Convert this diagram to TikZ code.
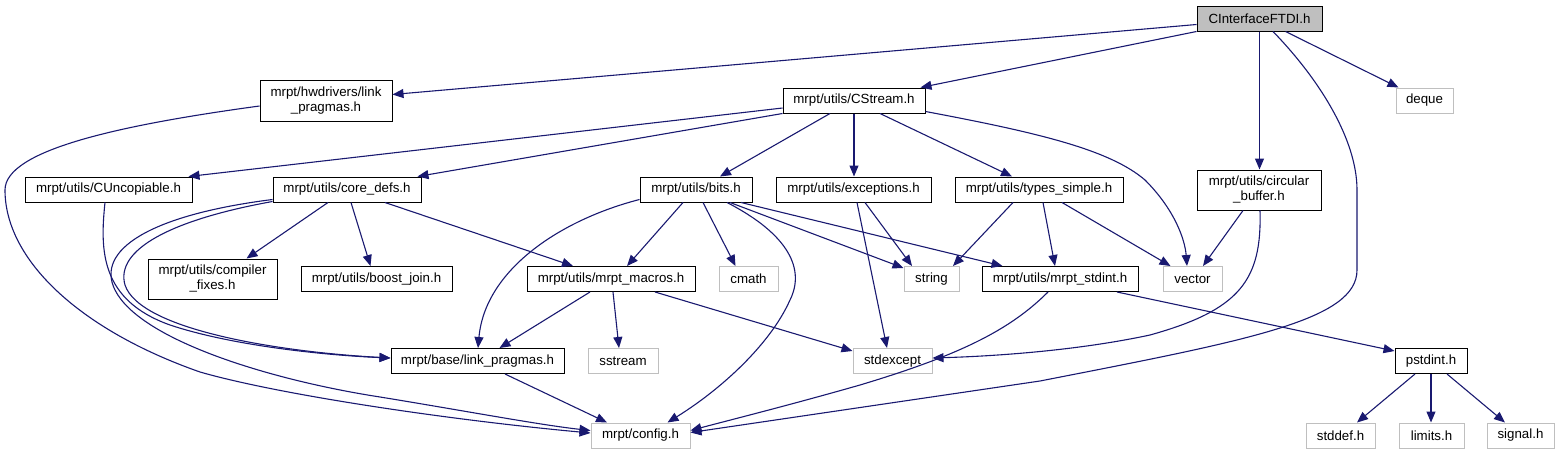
\documentclass[tikz,border=0pt]{standalone}
\usepackage{fontspec}
\setmainfont{Liberation Sans}
\usetikzlibrary{arrows.meta}
\definecolor{edgec}{HTML}{191970}
\definecolor{extc}{HTML}{BFBFBF}
\tikzset{
  every node/.style={font=\fontsize{13.3}{15}\selectfont, inner sep=0pt, align=center},
  box/.style={draw=black, line width=1pt, fill=white},
  ext/.style={draw=extc, line width=1pt, fill=white},
  rootbox/.style={draw=black, line width=1pt, fill=extc},
  edge/.style={draw=edgec, line width=1.1pt, -{Triangle[length=11pt,width=9pt]}},
}
\begin{document}
\begin{tikzpicture}[x=1pt,y=-1pt]
\useasboundingbox (0,0) rectangle (1559,455);
% nodes
\node[rootbox, minimum width=125pt, minimum height=25pt] (root) at (1259.5,18.5) {CInterfaceFTDI.h};
\node[box, minimum width=132pt, minimum height=41pt] (hwlp) at (326,100.5) {mrpt/hwdrivers/link\\\_pragmas.h};
\node[box, minimum width=142pt, minimum height=25pt] (cstream) at (854,100.5) {mrpt/utils/CStream.h};
\node[ext, minimum width=57pt, minimum height=25pt] (deque) at (1424.5,100.5) {deque};
\node[box, minimum width=124pt, minimum height=40pt] (circ) at (1259,190) {mrpt/utils/circular\\\_buffer.h};
\node[box, minimum width=167pt, minimum height=25pt] (uncop) at (108.5,189.5) {mrpt/utils/CUncopiable.h};
\node[box, minimum width=148pt, minimum height=25pt] (core) at (347,189.5) {mrpt/utils/core\_defs.h};
\node[box, minimum width=112pt, minimum height=25pt] (bits) at (696,189.5) {mrpt/utils/bits.h};
\node[box, minimum width=155pt, minimum height=25pt] (exc) at (853.5,189.5) {mrpt/utils/exceptions.h};
\node[box, minimum width=168pt, minimum height=25pt] (types) at (1039,189.5) {mrpt/utils/types\_simple.h};
\node[box, minimum width=129pt, minimum height=40pt] (compfix) at (212.5,279) {mrpt/utils/compiler\\\_fixes.h};
\node[box, minimum width=151pt, minimum height=25pt] (boost) at (376.5,279) {mrpt/utils/boost\_join.h};
\node[box, minimum width=168pt, minimum height=25pt] (macros) at (611,279) {mrpt/utils/mrpt\_macros.h};
\node[ext, minimum width=59pt, minimum height=25pt] (cmath) at (748.5,279) {cmath};
\node[ext, minimum width=55pt, minimum height=25pt] (string) at (931.5,279) {string};
\node[box, minimum width=156pt, minimum height=25pt] (stdint) at (1060,279) {mrpt/utils/mrpt\_stdint.h};
\node[ext, minimum width=59pt, minimum height=25pt] (vector) at (1192.5,279) {vector};
\node[box, minimum width=173pt, minimum height=25pt] (baselp) at (477.5,361) {mrpt/base/link\_pragmas.h};
\node[ext, minimum width=70pt, minimum height=25pt] (sstream) at (623,361) {sstream};
\node[ext, minimum width=79pt, minimum height=25pt] (stdexc) at (892.5,361) {stdexcept};
\node[box, minimum width=72pt, minimum height=25pt] (pstdint) at (1431,361) {pstdint.h};
\node[ext, minimum width=99pt, minimum height=25pt] (config) at (640.5,435.5) {mrpt/config.h};
\node[ext, minimum width=69pt, minimum height=25pt] (stddef) at (1340.5,435.5) {stddef.h};
\node[ext, minimum width=65pt, minimum height=25pt] (limits) at (1431.5,435.5) {limits.h};
\node[ext, minimum width=67pt, minimum height=25pt] (signal) at (1520.5,435.5) {signal.h};

% edges from root
\draw[edge] ([yshift=-6pt]root.west) -- ([yshift=6pt]hwlp.east);
\draw[edge] (root.south west) -- ([xshift=-5pt]cstream.north east);
\draw[edge] (root.south) -- (root.south |- circ.north);
\draw[edge] ([xshift=26pt]root.south) -- ([xshift=3pt]deque.north west);
\draw[edge] ([xshift=13.5pt]root.south) .. controls (1320,80) and (1357,140) .. (1357,190) -- (1357,270) .. controls (1357,320) and (1250,340) .. (1040,381) -- ([yshift=3pt]config.east);
% hwlp
\draw[edge] ([yshift=-5.5pt]hwlp.west) .. controls (120,125) and (5,150) .. (5,190) .. controls (5,260) and (80,330) .. (200,372) .. controls (280,395) and (450,420) .. ([yshift=2.5pt]config.west);
% cstream
\draw[edge] ([yshift=-7.5pt]cstream.west) -- ([xshift=-4pt]uncop.north east);
\draw[edge] (cstream.south west) -- ([xshift=-4pt]core.north east);
\draw[edge] ([xshift=-24pt]cstream.south) -- ([xshift=24pt]bits.north);
\draw[edge] (cstream.south) -- (cstream.south |- exc.north);
\draw[edge] ([xshift=26pt]cstream.south) -- ([xshift=-27pt]types.north);
\draw[edge] ([yshift=-11pt]cstream.east) .. controls (1040,133) and (1110,150) .. (1145,180) .. controls (1175,210) and (1185,240) .. ([xshift=-5.5pt]vector.north);
% uncop
\draw[edge] ([xshift=-3.5pt]uncop.south) .. controls (100,250) and (100,300) .. (170,325) .. controls (230,345) and (320,355) .. ([yshift=3pt]baselp.west);
% core
\draw[edge] ([yshift=3pt]core.south west) .. controls (150,215) and (95,250) .. (115,290) .. controls (140,340) and (270,380) .. (380,397) .. controls (460,410) and (540,425) .. ([yshift=5pt]config.west);
\draw[edge] ([yshift=1pt]core.south west) .. controls (170,220) and (115,250) .. (125,285) .. controls (140,330) and (280,352) .. ([yshift=3pt]baselp.west);
\draw[edge] ([xshift=-19pt]core.south) -- ([xshift=34pt]compfix.north);
\draw[edge] ([xshift=4pt]core.south) -- ([xshift=-6pt]boost.north);
\draw[edge] ([xshift=38pt]core.south) -- ([xshift=-38pt]macros.north);
% bits
\draw[edge] ([yshift=3pt]bits.south west) .. controls (560,220) and (485,270) .. ([xshift=0.5pt]baselp.north);
\draw[edge] ([xshift=-13pt]bits.south) -- ([xshift=16pt]macros.north);
\draw[edge] ([xshift=7pt]bits.south) -- ([xshift=-13pt]cmath.north);
\draw[edge] ([xshift=31pt]bits.south) .. controls (790,235) and (805,270) .. (790,300) .. controls (770,345) and (720,390) .. ([xshift=27pt]config.north);
\draw[edge] ([xshift=34pt]bits.south) -- ([yshift=-2pt]string.north west);
\draw[edge] ([xshift=45pt]bits.south) -- ([xshift=21pt]stdint.north west);
% exceptions
\draw[edge] ([xshift=11.5pt]exc.south) -- ([xshift=-19.5pt]string.north);
\draw[edge] ([xshift=3.5pt]exc.south) -- ([xshift=-5.5pt]stdexc.north);
% types
\draw[edge] ([xshift=-26pt]types.south) -- ([xshift=21.5pt]string.north);
\draw[edge] ([xshift=4pt]types.south) -- ([xshift=-5pt]stdint.north);
\draw[edge] ([xshift=23pt]types.south) -- ([xshift=-22pt]vector.north);
% circular buffer
\draw[edge] ([xshift=-16pt]circ.south) -- ([xshift=10.5pt]vector.north);
\draw[edge] ([xshift=1pt]circ.south) .. controls (1262,280) and (1240,310) .. (1150,335) .. controls (1080,350) and (1000,356) .. ([yshift=3pt]stdexc.east);
% macros
\draw[edge] ([xshift=-21pt]macros.south) -- ([xshift=22pt]baselp.north);
\draw[edge] ([xshift=2pt]macros.south) -- ([xshift=-4pt]sstream.north);
\draw[edge] ([xshift=44pt]macros.south) -- ([yshift=-3pt]stdexc.north west);
% base link pragmas
\draw[edge] ([xshift=27.5pt]baselp.south) -- ([xshift=-33.5pt]config.north);
% stdint
\draw[edge] ([xshift=-12pt]stdint.south) .. controls (1010,330) and (960,355) .. (860,385) .. controls (790,405) and (730,420) .. ([yshift=5pt]config.east);
\draw[edge] ([xshift=57pt]stdint.south) -- ([yshift=-3pt]pstdint.north west);
% pstdint
\draw[edge] ([xshift=-16pt]pstdint.south) -- ([xshift=16.5pt]stddef.north);
\draw[edge] (pstdint.south) -- (pstdint.south |- limits.north);
\draw[edge] ([xshift=16pt]pstdint.south) -- ([xshift=-15.5pt]signal.north);
\end{tikzpicture}
\end{document}
